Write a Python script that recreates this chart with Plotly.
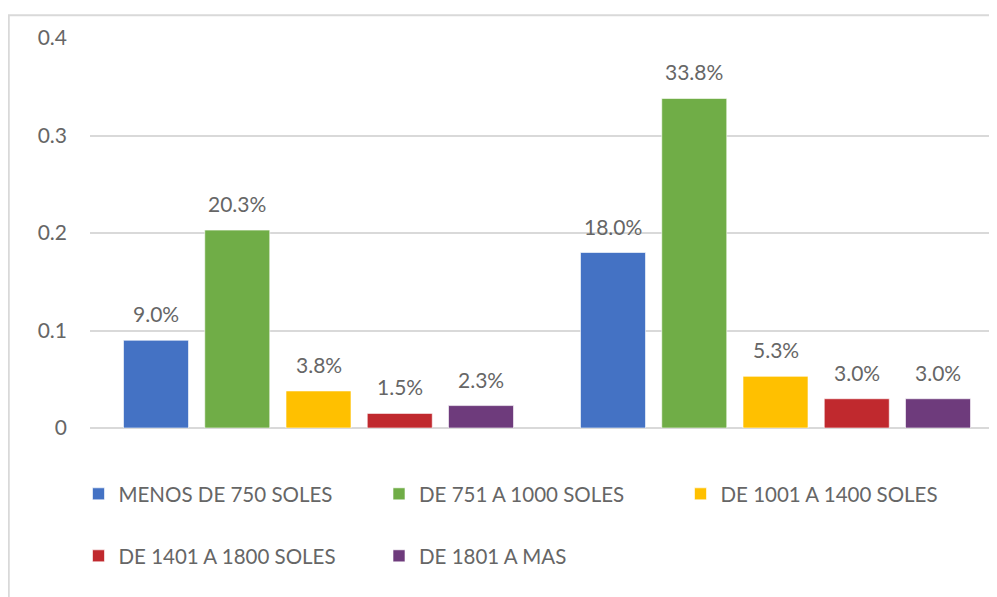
import plotly.graph_objects as go

categories = ["Grupo 1", "Grupo 2"]
series_names = ["MENOS DE 750 SOLES", "DE 751 A 1000 SOLES", "DE 1001 A 1400 SOLES",
                "DE 1401 A 1800 SOLES", "DE 1801 A MAS"]
menos_750 = [0.090, 0.180]
de_751_1000 = [0.203, 0.338]
de_1001_1400 = [0.038, 0.053]
de_1401_1800 = [0.015, 0.030]
de_1801_mas = [0.023, 0.030]
y_ticks = [0, 0.1, 0.2, 0.3, 0.4]
y_tick_labels = ["0", "0.1", "0.2", "0.3", "0.4"]

values = [menos_750, de_751_1000, de_1001_1400, de_1401_1800, de_1801_mas]
colors = ["#4472C4", "#70AD47", "#FFC000", "#C0292E", "#6E3B7C"]
legend_ids = ["legend", "legend2", "legend3", "legend4", "legend5"]

FONT = "Lato, 'Open Sans', sans-serif"
GRAY = "#666666"
FS = 21

# page offset of the figure inside the html body (default body margin)
PAGE = 8
W, H = 997, 597

# plot area (figure coordinates)
L, T, B = 90 - PAGE, 38 - PAGE, H - (428 - PAGE)
PW = W - L
PH = H - T - B
CAT_PX = 457.0

# bar layout in category units
bar_w = 65 / CAT_PX
pitch = 81.25 / CAT_PX
first_off = -(4 * pitch + bar_w) / 2

fig = go.Figure()
annotations = []
for i, (name, vals, col, lg) in enumerate(zip(series_names, values, colors, legend_ids)):
    off = first_off + i * pitch
    fig.add_trace(go.Bar(
        x=list(range(len(categories))), y=vals, name=name, legend=lg,
        width=bar_w, offset=off,
        marker=dict(color=col, line=dict(color="rgba(255,255,255,0.6)", width=1)),
        hovertext=categories,
    ))
    for j, v in enumerate(vals):
        annotations.append(dict(
            x=j + off + bar_w / 2, y=v, xref="x", yref="y",
            text=f"{v * 100:.1f}%", showarrow=False,
            yanchor="bottom", yshift=12,
            font=dict(family=FONT, size=FS, color=GRAY),
        ))

def lx(screen_center):
    return (screen_center - PAGE - 20) / W
def ly(screen_y):
    return 1 - (screen_y - PAGE) / H

leg_common = dict(orientation="h", xref="container", yref="container",
                  xanchor="left", yanchor="middle", bgcolor="rgba(0,0,0,0)",
                  font=dict(family=FONT, size=20.5, color=GRAY))

fig.update_layout(
    width=W, height=H,
    margin=dict(l=L, r=0, t=T, b=B, autoexpand=False),
    paper_bgcolor="white", plot_bgcolor="white",
    showlegend=True,
    font=dict(family=FONT, color=GRAY),
    legend=dict(x=lx(98.5), y=ly(494), **leg_common),
    legend2=dict(x=lx(399), y=ly(494), **leg_common),
    legend3=dict(x=lx(700.5), y=ly(494), **leg_common),
    legend4=dict(x=lx(98.5), y=ly(556), **leg_common),
    legend5=dict(x=lx(399), y=ly(556), **leg_common),
    xaxis=dict(range=[-0.5, -0.5 + PW / CAT_PX], showticklabels=False, showgrid=False,
               zeroline=False, showline=False, fixedrange=True),
    yaxis=dict(range=[0, 0.4], tickvals=y_ticks, ticktext=y_tick_labels,
               showgrid=True, gridcolor="#D9D9D9", gridwidth=1.5,
               zeroline=True, zerolinecolor="#D9D9D9", zerolinewidth=2,
               showline=False, ticklabelstandoff=22,
               tickfont=dict(family=FONT, size=FS, color=GRAY)),
    annotations=annotations,
    shapes=[dict(type="rect", xref="paper", yref="paper",
                 x0=(0.75 - L) / PW, x1=1.2, y0=-1.0, y1=1 + (T - 7.3) / PH,
                 line=dict(color="#D9D9D9", width=2), fillcolor="rgba(0,0,0,0)",
                 layer="below")],
)

fig.write_html("out.html")
